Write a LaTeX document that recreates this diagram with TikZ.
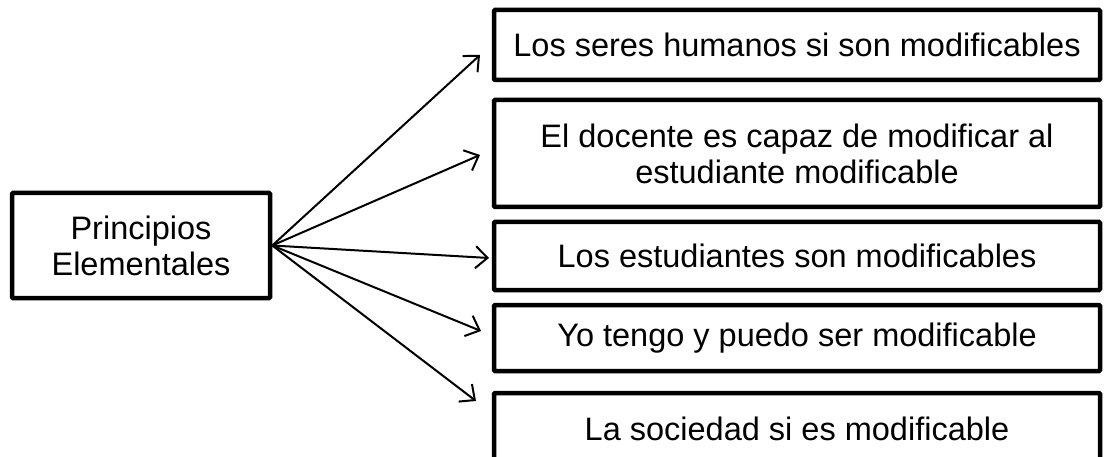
\documentclass[tikz,border=0pt]{standalone}
\usepackage{fontspec}
\setmainfont{Liberation Sans}
\usetikzlibrary{arrows.meta}
\begin{document}
\begin{tikzpicture}[x=1pt,y=1pt,
  box/.style={draw=black, line width=4.5pt, rounded corners=1pt, fill=white, inner sep=0pt, align=center, font=\fontsize{32.5}{36}\selectfont},
  link/.style={line width=2pt, -{Straight Barb[length=12pt,width=22pt,line width=2pt]}}]
\useasboundingbox (0,0) rectangle (1108,-457);
\clip (0,0) rectangle (1108,-457);
\node[box, minimum width=258pt, minimum height=105pt] (pe) at (141,-245.5) {Principios\\Elementales};
\node[box, minimum width=606pt, minimum height=70pt] (b1) at (797,-45) {Los seres humanos si son modificables};
\node[box, minimum width=606pt, minimum height=107pt] (b2) at (797,-153.5) {El docente es capaz de modificar al\\estudiante modificable};
\node[box, minimum width=606pt, minimum height=68pt] (b3) at (797,-256) {Los estudiantes son modificables};
\node[box, minimum width=606pt, minimum height=66pt] (b4) at (797,-338) {Yo tengo y puedo ser modificable};
\node[box, minimum width=606pt, minimum height=72pt] (b5) at (797,-429) {La sociedad si es modificable};
\coordinate (s) at (pe.east);
\coordinate (t1) at (480,-55);
\coordinate (t2) at (480,-155);
\coordinate (t3) at (489,-258);
\coordinate (t4) at (481,-331);
\coordinate (t5) at (476,-401);
\draw[link] (s) -- (t1);
\draw[link] (s) -- (t2);
\draw[link] (s) -- (t3);
\draw[link] (s) -- (t4);
\draw[link] (s) -- (t5);
\end{tikzpicture}
\end{document}
